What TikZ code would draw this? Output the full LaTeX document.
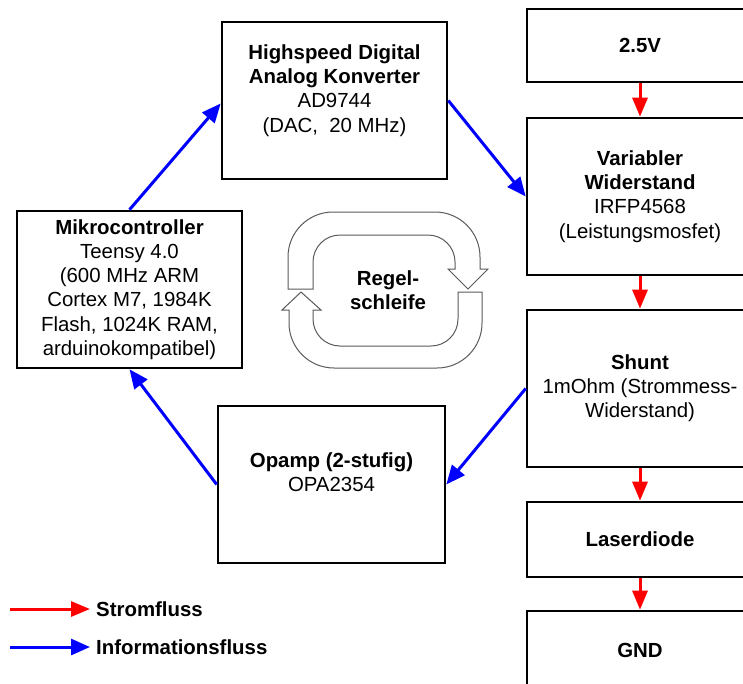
\documentclass[tikz,border=0pt]{standalone}
\usepackage{fontspec}
\setmainfont{Liberation Sans}
\usetikzlibrary{arrows.meta}
\definecolor{flowred}{RGB}{255,0,0}
\definecolor{flowblue}{RGB}{0,0,255}
\definecolor{loopgray}{RGB}{90,90,90}
\begin{document}
\begin{tikzpicture}[x=1pt,y=-1pt,
  txt/.style={font=\fontsize{20.4}{24.2}\selectfont},
  box/.style={txt, draw=black, line width=2.6pt, fill=white, align=center, inner sep=0pt,
    minimum width=225pt, minimum height=157pt},
  rbox/.style={box, minimum width=226pt},
  sbox/.style={box, minimum width=226pt, minimum height=74pt},
  info/.style={draw=flowblue, line width=3pt, -{Triangle[length=19pt,width=16pt]}},
  power/.style={draw=flowred, line width=3pt, -{Triangle[length=19pt,width=15pt]}},
  loop/.style={draw=loopgray, line width=1pt, fill=white, line join=miter},
  legend/.style={txt, anchor=west, inner sep=0pt, font=\fontsize{20.4}{24.2}\selectfont\bfseries}
]
\useasboundingbox (0,0) rectangle (743,683);
\fill[white] (0,0) rectangle (743,683);

% left / middle boxes
\node[box] (dac) at (334.5,100.5) {\textbf{Highspeed Digital}\\\textbf{Analog Konverter}\\AD9744\\(DAC,\ \ 20 MHz)\\\mbox{}};
\node[box] (micro) at (129.5,289.5) {\textbf{Mikrocontroller}\\Teensy 4.0\\(600 MHz ARM\\Cortex M7, 1984K\\Flash, 1024K RAM,\\arduinokompatibel)};
\node[box, minimum width=227pt] (opamp) at (331.5,484.5) {\textbf{Opamp (2-stufig)}\\OPA2354\\\mbox{}};

% right column
\node[sbox, minimum height=73pt] (vsrc) at (640,45.5) {\textbf{2.5V}};
\node[rbox] (var) at (640,196.5) {\textbf{Variabler}\\\textbf{Widerstand}\\IRFP4568\\(Leistungsmosfet)};
\node[rbox] (shunt) at (640,388.5) {\textbf{Shunt}\\1mOhm (Strommess-\\Widerstand)};
\node[sbox, minimum height=75pt] (laser) at (640,539.5) {\textbf{Laserdiode}};
\node[sbox, minimum height=78pt] (gnd) at (640,650) {\textbf{GND}};

% power flow
\draw[power] (vsrc.south) -- (var.north);
\draw[power] (var.south) -- (shunt.north);
\draw[power] (shunt.south) -- (laser.north);
\draw[power] (laser.south) -- (gnd.north);

% information flow
\draw[info] (micro.north) -- ([yshift=-3pt]dac.west);
\draw[info] (dac.east) -- (var.west);
\draw[info] (shunt.west) -- (opamp.east);
\draw[info] (opamp.west) -- (micro.south);

% control loop symbol
\draw[loop] (288,289) -- (288,257) .. controls (288,232.1) and (308.2,212) .. (333,212)
  -- (435,212) .. controls (459.9,212) and (480,232.1) .. (480,257)
  -- (480,269) -- (488,269) -- (468,289) -- (448,269) -- (455,269)
  -- (455,262) .. controls (455,247.1) and (442.9,235) .. (428,235)
  -- (340,235) .. controls (325.1,235) and (313,247.1) .. (313,262) -- (313,289) -- cycle;
\draw[loop] (482,292) -- (482,323) .. controls (482,347.9) and (461.9,368) .. (437,368)
  -- (334,368) .. controls (309.1,368) and (289,347.9) .. (289,323)
  -- (289,310) -- (282,310) -- (301,292) -- (321,310) -- (313,310)
  -- (313,319) .. controls (313,333.9) and (325.1,346) .. (340,346)
  -- (431,346) .. controls (445.9,346) and (458,333.9) .. (458,319) -- (458,292) -- cycle;
\node[txt, align=center, font=\fontsize{20.4}{24.2}\selectfont\bfseries] (regel) at (388,290) {Regel-\\schleife};

% legend
\coordinate (r1) at (10,609);
\coordinate (r2) at (90,609);
\coordinate (b1) at (10,647);
\coordinate (b2) at (90,647);
\draw[power] (r1) -- (r2);
\draw[info] (b1) -- (b2);
\node[legend] (lstrom) at (96,609) {Stromfluss};
\node[legend] (linfo) at (96,647) {Informationsfluss};
\end{tikzpicture}
\end{document}
